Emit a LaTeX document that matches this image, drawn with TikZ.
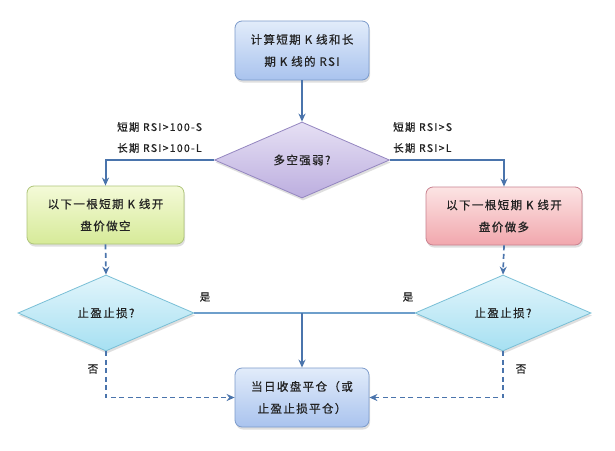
\documentclass[tikz,border=0pt]{standalone}
\usepackage{fontspec}
\newfontfamily\cjk[LetterSpace=12,FakeBold=0.6]{Noto Sans CJK SC}
\usetikzlibrary{shapes.geometric,shadows,arrows.meta}
\definecolor{linec}{HTML}{4A74AC}
\definecolor{linel}{HTML}{6E9FCB}
\definecolor{txt}{HTML}{222222}
\definecolor{BlueBorder}{HTML}{7C9BCB}
\definecolor{BlueTop}{HTML}{E2ECFA}
\definecolor{BlueBot}{HTML}{A9C3EE}
\definecolor{GreenBorder}{HTML}{AFC57A}
\definecolor{GreenTop}{HTML}{F4FAD8}
\definecolor{GreenBot}{HTML}{D6EA98}
\definecolor{RedBorder}{HTML}{C98290}
\definecolor{RedTop}{HTML}{FCE4E4}
\definecolor{RedBot}{HTML}{F1A7AD}
\definecolor{PurpleBorder}{HTML}{9486C0}
\definecolor{PurpleTop}{HTML}{E6E0F4}
\definecolor{PurpleBot}{HTML}{BCAEDF}
\definecolor{CyanBorder}{HTML}{79BFD6}
\definecolor{CyanTop}{HTML}{E2F5FB}
\definecolor{CyanBot}{HTML}{A6E0F2}
\tikzset{
  shad/.style={drop shadow={opacity=0.25,shadow xshift=1pt,shadow yshift=-2.5pt}},
  boxb/.style={shad,rounded corners=7pt,inner sep=0pt,align=center,text=txt,
     font=\cjk\fontsize{11.5}{22}\selectfont,line width=0.8pt},
  bluebox/.style={boxb,draw=BlueBorder,top color=BlueTop,bottom color=BlueBot,
     minimum width=134pt,minimum height=59pt},
  greenbox/.style={boxb,draw=GreenBorder,top color=GreenTop,bottom color=GreenBot,
     minimum width=157pt,minimum height=58pt},
  redbox/.style={boxb,draw=RedBorder,top color=RedTop,bottom color=RedBot,
     minimum width=156pt,minimum height=58pt},
  dia/.style={diamond,shad,inner sep=0pt,aspect=2.3,text=txt,line width=0.8pt,
     font=\cjk\fontsize{11.5}{14}\selectfont,minimum width=175pt,minimum height=76pt},
  purpledia/.style={dia,draw=PurpleBorder,top color=PurpleTop,bottom color=PurpleBot},
  cyandia/.style={dia,draw=CyanBorder,top color=CyanTop,bottom color=CyanBot,minimum width=176pt},
  arr/.style={draw=linec,line width=2pt,-{Stealth[length=8pt,width=7pt]}},
  darr/.style={arr,dash pattern=on 5pt off 3.5pt,line width=1.7pt},
  lbl/.style={text=txt,font=\cjk\fontsize{10.5}{14}\selectfont,inner sep=0pt},
}
\begin{document}
\begin{tikzpicture}[x=1pt,y=-1pt]
\useasboundingbox[fill=white] (0,0) rectangle (615,450);
\node[bluebox] (top) at (302,50.5) {计算短期 K 线和长\\期 K 线的 RSI};
\node[purpledia] (dm) at (302,160) {多空强弱?};
\node[greenbox] (lb) at (105.5,215) {以下一根短期 K 线开\\盘价做空};
\node[redbox] (rb) at (504,216) {以下一根短期 K 线开\\盘价做多};
\node[cyandia] (ld) at (106,313) {止盈止损?};
\node[cyandia] (rd) at (503,313) {止盈止损?};
\node[bluebox] (bot) at (302,397.5) {当日收盘平仓（或\\止盈止损平仓）};
\coordinate (j) at (302,313);

\node[lbl,anchor=west] (l1) at (117,127) {短期 RSI>100-S};
\node[lbl,anchor=west] (l2) at (117,148) {长期 RSI>100-L};
\node[lbl,anchor=west] (r1) at (393,127) {短期 RSI>S};
\node[lbl,anchor=west] (r2) at (393,148) {长期 RSI>L};
\node[lbl] (y1) at (205,297) {是};
\node[lbl] (y2) at (408,297) {是};
\node[lbl] (n1) at (93,369) {否};
\node[lbl] (n2) at (521,369) {否};

\draw[arr] (top) -- (dm.north);
\draw[arr] (dm.west) -| (lb.north);
\draw[arr] (dm.east) -| (rb.north);
\draw[darr] (lb.south) -- (ld.north);
\draw[darr] (rb.south) -- (rd.north);
\draw[draw=linel,line width=2pt] (ld.east) -- (rd.west);
\draw[arr] (j) -- (bot.north);
\draw[darr] (ld.south) |- (bot.west);
\draw[darr] (rd.south) |- (bot.east);
\end{tikzpicture}
\end{document}
